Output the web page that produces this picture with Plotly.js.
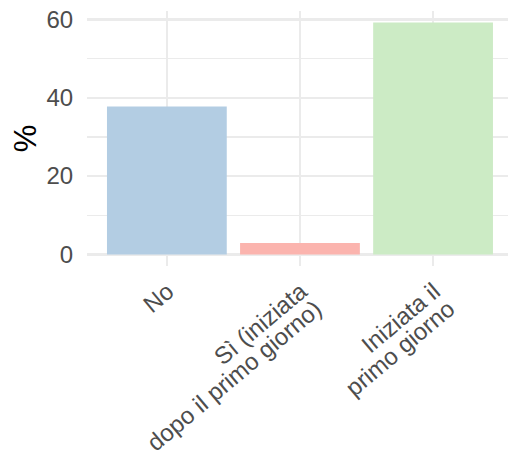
<!DOCTYPE html>
<html>
<head>
<meta charset="utf-8">
<script src="https://cdn.plot.ly/plotly-3.0.1.min.js"></script>
<style>html,body{margin:0;padding:0;background:#fff;}#chart{width:508px;height:451px;}</style>
</head>
<body>
<div id="chart"></div>
<script>
const categories = ["No", "Sì (iniziata<br>dopo il primo giorno)", "Iniziata il<br>primo giorno"];
const values = [37.8, 2.9, 59.2];
const barColors = ["#B3CDE3", "#FBB4AE", "#CCEBC5"];
const yTicks = [0, 20, 40, 60];
const yTickLabels = ["0", "20", "40", "60"];
const yTitle = "%";

const yMax = Math.max(...values);
const pad = yMax * 0.05;

const trace = {
  type: "bar",
  x: [0, 1, 2],
  y: values,
  width: 0.9,
  marker: {color: barColors, line: {width: 0}},
  hoverinfo: "skip"
};

const layout = {
  width: 508,
  height: 451,
  margin: {l: 87, r: 0, t: 10.5, b: 185, pad: 0},
  paper_bgcolor: "#fff",
  plot_bgcolor: "#fff",
  showlegend: false,
  font: {family: "Liberation Sans, Arial, sans-serif", color: "#4D4D4D", size: 24},
  xaxis: {
    type: "linear",
    range: [-0.6, 2.563],
    tickmode: "array",
    tickvals: [0, 1, 2],
    ticktext: categories,
    tickangle: -40,
    showgrid: true,
    gridcolor: "#EBEBEB",
    gridwidth: 2.3,
    zeroline: false,
    showline: false,
    ticks: "",
    tickfont: {size: 24, color: "#4D4D4D"}
  },
  yaxis: {
    range: [-pad, yMax + pad],
    tickmode: "array",
    tickvals: yTicks,
    ticktext: yTickLabels,
    showgrid: true,
    gridcolor: "#EBEBEB",
    gridwidth: 2.3,
    zeroline: false,
    showline: false,
    ticks: "outside",
    ticklen: 8,
    tickcolor: "rgba(0,0,0,0)",
    tickfont: {size: 24, color: "#4D4D4D"},
    minor: {tickmode: "array", tickvals: [10, 30, 50], showgrid: true, gridcolor: "#EBEBEB", gridwidth: 1.2, ticks: ""},
    title: {text: yTitle, font: {size: 31, color: "#000"}, standoff: 0}
  }
};

Plotly.newPlot("chart", [trace], layout, {staticPlot: true, displayModeBar: false}).then(function (gd) {
  // tighter line spacing for multi-line category labels (ggplot lineheight 0.9)
  gd.querySelectorAll(".xtick text").forEach(function (t) {
    t.querySelectorAll("tspan.line").forEach(function (s, i) {
      if (i > 0) s.setAttribute("dy", "0.95em");
    });
    const tr = t.getAttribute("transform") || "";
    t.setAttribute("transform", "translate(1,6) " + tr);
  });
});
</script>
</body>
</html>
